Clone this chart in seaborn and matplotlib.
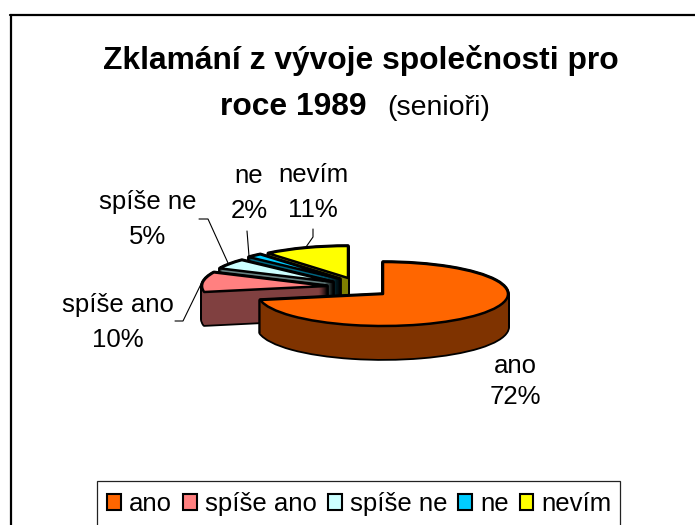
import matplotlib.pyplot as plt
import seaborn as sns
from matplotlib.lines import Line2D
from matplotlib.patches import Patch, Rectangle

categories = ['ano', 'spíše ano', 'spíše ne', 'ne', 'nevím']
percents = [72, 10, 5, 2, 11]
top_colors = ['#FF6600', '#FF8080', '#CCFFFF', '#00CCFF', '#FFFF00']
side_colors = ['#7F3300', '#804040', '#668080', '#006680', '#808000']

W, H = 695, 525
RX, RY = 125, 32      # pixel size of the pie radius, squashed like the old 3D pie
DEPTH = 33

# exploded centre of every slice, in pixels
centers = [(383, 294), (327, 286), (333, 282), (340, 279), (348, 278)]
# back to front
draw_order = [4, 3, 2, 1, 0]

sns.set_theme(style='white')
plt.rcParams['font.family'] = ['Liberation Sans', 'DejaVu Sans']


def px(x, y):
    return x / RX, (H - y) / RY


def draw_slice(ax, i, cx, cy, face, edge, lw=1.8):
    wedges, _ = ax.pie(percents, startangle=90, counterclock=False, radius=1,
                       center=px(cx, cy), frame=True,
                       wedgeprops=dict(facecolor=face, edgecolor=edge, linewidth=lw,
                                       joinstyle='round'))
    for j, w in enumerate(wedges):
        if j != i:
            w.remove()


fig = plt.figure(figsize=(W / 100, H / 100), dpi=100)
ax = fig.add_axes([0, 0, 1, 1])

for i in draw_order:
    cx, cy = centers[i]
    # black first so the wall keeps an outline, then the wall, then the top
    for d in range(DEPTH + 1):
        draw_slice(ax, i, cx, cy + d, 'black', 'black', lw=2.6)
    for d in range(DEPTH + 1):
        draw_slice(ax, i, cx, cy + d, side_colors[i], 'none')
    draw_slice(ax, i, cx, cy, top_colors[i], 'black')

ax.set_aspect('auto')
ax.set_xlim(0, W / RX)
ax.set_ylim(0, H / RY)
ax.axis('off')

# title, two fonts on the second line
ax.text(*px(360.5, 69), 'Zklamání z vývoje společnosti pro', fontsize=22.9,
        fontweight='bold', ha='center', va='baseline', color='black')
ax.text(*px(220, 115), 'roce 1989', fontsize=22.9, fontweight='bold',
        ha='left', va='baseline', color='black')
ax.text(*px(387, 115), '(senioři)', fontsize=20.5, ha='left', va='baseline', color='black')

# data labels: centre x, baseline of name, baseline of percent
label_pos = [(515, 373, 404), (118, 312, 347), (148, 209, 244), (249, 183, 218), (313, 182, 217)]
for i, (x, y1, y2) in enumerate(label_pos):
    ax.text(*px(x, y1), categories[i], fontsize=18.5, ha='center', va='baseline', color='black')
    ax.text(*px(x, y2), f'{percents[i]}%', fontsize=18.5, ha='center', va='baseline', color='black')

# leader lines
leaders = [
    [(175, 321), (183, 321), (202, 282)],
    [(199, 219), (208, 219), (228, 263)],
    [(247, 231), (249, 256)],
    [(313, 229), (313, 237), (306, 247)],
]
for pts in leaders:
    xy = [px(*p) for p in pts]
    ax.plot([p[0] for p in xy], [p[1] for p in xy], color='black', lw=0.8)

# chart frame, only top and left fall inside the picture
fig.add_artist(Line2D([11 / W, 11 / W], [0, 1 - 15 / H], color='black', lw=1.6))
fig.add_artist(Line2D([10 / W, 1], [1 - 15 / H, 1 - 15 / H], color='black', lw=1.6))

# legend box runs off the bottom edge
fig.add_artist(Rectangle((97 / W, -20 / H), 523 / W, (H - 481 + 20) / H, fill=False,
                         edgecolor='#222222', lw=0.9, transform=fig.transFigure))
handles = [Patch(facecolor=c, edgecolor='black', linewidth=1.5) for c in top_colors]
fig.legend(handles, categories, ncol=5, frameon=False, fontsize=18.5, labelcolor='black',
           loc='center left', bbox_to_anchor=(107 / W, 1 - 504 / H), borderaxespad=0, borderpad=0,
           handlelength=0.54, handleheight=0.54, handletextpad=0.32, columnspacing=0.42)

fig.savefig('out.png', dpi=100)
